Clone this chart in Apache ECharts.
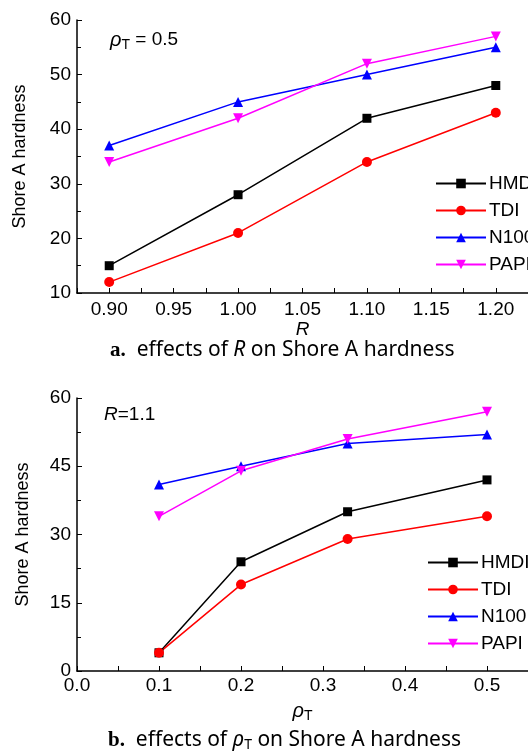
<!DOCTYPE html>
<html>
<head>
<meta charset="utf-8">
<script src="https://cdn.jsdelivr.net/npm/echarts@6/dist/echarts.min.js"></script>
<style>
  html, body { margin: 0; padding: 0; background: #fff; }
  #main { width: 528px; height: 752px; }
</style>
</head>
<body>
<div id="main"></div>
<script>
// chart a: effect of R
var rValues = [0.90, 1.00, 1.10, 1.20];
var hmdiA = [15, 28, 42, 48];
var tdiA = [12, 21, 34, 43];
var n100A = [37, 45, 50, 55];
var papiA = [34, 42, 52, 57];
var rTickLabels = [0.90, 0.95, 1.00, 1.05, 1.10, 1.15, 1.20];

// chart b: effect of rho_T
var rhoValues = [0.1, 0.2, 0.33, 0.5];
var hmdiB = [4, 24, 35, 42];
var tdiB = [4, 19, 29, 34];
var n100B = [41, 45, 50, 52];
var papiB = [34, 44, 51, 57];
var rhoTickLabels = [0.0, 0.1, 0.2, 0.3, 0.4, 0.5];

var names = ['HMDI', 'TDI', 'N100', 'PAPI'];
var colors = ['#000000', '#ff0000', '#0000ff', '#ff00ff'];
var symbols = ['rect', 'circle', 'triangle', 'triangle'];
var rotates = [0, 0, 0, 180];

var font = 'Liberation Sans, Arial, sans-serif';
var serif = 'Liberation Serif, DejaVu Serif, serif';
var capFont = 'Noto Sans, Lato, sans-serif';

function steps(a, b, s) {
  var out = [];
  for (var i = 0; a + i * s <= b + 1e-9; i++) out.push(+(a + i * s).toFixed(4));
  return out;
}

function pairs(xs, ys) {
  return xs.map(function (x, i) { return [x, ys[i]]; });
}

var myChart = echarts.init(document.getElementById('main'));

var axisLine = { lineStyle: { color: '#000', width: 1.5 } };
var labelStyle = { color: '#000', fontFamily: font, fontSize: 19 };

function makeSeries(idx, xs, list) {
  return list.map(function (ys, i) {
    return {
      name: names[i],
      type: 'line',
      xAxisIndex: idx,
      yAxisIndex: idx,
      data: pairs(xs, ys),
      symbol: symbols[i],
      symbolRotate: rotates[i],
      symbolSize: i == 0 ? 9 : 10,
      lineStyle: { color: colors[i], width: 1.5 },
      itemStyle: { color: colors[i] },
      z: 3
    };
  });
}

function makeLegend(left, top) {
  return {
    data: names,
    orient: 'vertical',
    left: left,
    top: top,
    itemWidth: 50,
    itemHeight: 12,
    itemGap: 8,
    selectedMode: false,
    textStyle: { color: '#000', fontFamily: font, fontSize: 19, lineHeight: 18, padding: [0, 0, 0, -2] }
  };
}

var option = {
  animation: false,
  backgroundColor: '#fff',
  grid: [
    { left: 77, top: 20, width: 451, height: 273 },
    { left: 77, top: 398, width: 451, height: 273 }
  ],
  legend: [makeLegend(430, 169), makeLegend(422, 548)],
  xAxis: [
    {
      gridIndex: 0,
      type: 'value',
      min: 0.875,
      max: 1.225,
      name: 'R',
      nameLocation: 'middle',
      nameGap: 27,
      nameTextStyle: { color: '#000', fontFamily: font, fontSize: 19, fontStyle: 'italic' },
      axisLine: axisLine,
      axisTick: { inside: true, length: 5, lineStyle: { color: '#000' }, customValues: steps(0.875, 1.2, 0.025) },
      axisLabel: Object.assign({ customValues: rTickLabels, margin: 7, formatter: function (v) { return v.toFixed(2); } }, labelStyle),
      splitLine: { show: false }
    },
    {
      gridIndex: 1,
      type: 'value',
      min: 0,
      max: 0.55,
      name: '{i|ρ}{s|T}',
      nameLocation: 'middle',
      nameGap: 28,
      nameTextStyle: {
        rich: {
          i: { color: '#000', fontFamily: font, fontSize: 20, fontStyle: 'italic' },
          s: { color: '#000', fontFamily: font, fontSize: 14, padding: [10, 0, 0, 0] }
        }
      },
      axisLine: axisLine,
      axisTick: { inside: true, length: 5, lineStyle: { color: '#000' }, customValues: steps(0, 0.5, 0.05) },
      axisLabel: Object.assign({ customValues: rhoTickLabels, margin: 5, formatter: function (v) { return v.toFixed(1); } }, labelStyle),
      splitLine: { show: false }
    }
  ],
  yAxis: [
    {
      gridIndex: 0,
      type: 'value',
      min: 10,
      max: 60,
      interval: 10,
      name: 'Shore A hardness',
      nameLocation: 'middle',
      nameGap: 48,
      nameTextStyle: { color: '#000', fontFamily: font, fontSize: 18 },
      axisLine: axisLine,
      axisTick: { inside: true, length: 5, lineStyle: { color: '#000' } },
      minorTick: { show: true, splitNumber: 2, length: 4, lineStyle: { color: '#000' } },
      axisLabel: Object.assign({ margin: 6 }, labelStyle),
      splitLine: { show: false }
    },
    {
      gridIndex: 1,
      type: 'value',
      min: 0,
      max: 60,
      interval: 15,
      name: 'Shore A hardness',
      nameLocation: 'middle',
      nameGap: 45,
      nameTextStyle: { color: '#000', fontFamily: font, fontSize: 18 },
      axisLine: axisLine,
      axisTick: { inside: true, length: 5, lineStyle: { color: '#000' } },
      minorTick: { show: true, splitNumber: 2, length: 4, lineStyle: { color: '#000' } },
      axisLabel: Object.assign({ margin: 6 }, labelStyle),
      splitLine: { show: false }
    }
  ],
  graphic: [
    {
      type: 'text', left: 110, top: 30,
      style: {
        text: '{i|ρ}{s|T}{n| = 0.5}',
        rich: {
          i: { fill: '#000', fontFamily: font, fontSize: 20, fontStyle: 'italic' },
          s: { fill: '#000', fontFamily: font, fontSize: 14, padding: [10, 0, 0, 0] },
          n: { fill: '#000', fontFamily: font, fontSize: 19 }
        }
      }
    },
    {
      type: 'text', left: 104, top: 405,
      style: {
        text: '{i|R}{n|=1.1}',
        rich: {
          i: { fill: '#000', fontFamily: font, fontSize: 19, fontStyle: 'italic' },
          n: { fill: '#000', fontFamily: font, fontSize: 19 }
        }
      }
    },
    {
      type: 'text', left: 110, top: 340,
      style: {
        text: '{b|a.}{n|  effects of }{i|R}{n| on Shore A hardness}',
        rich: {
          b: { fill: '#000', fontFamily: serif, fontSize: 21, fontWeight: 'bold' },
          n: { fill: '#000', fontFamily: capFont, fontSize: 21 },
          i: { fill: '#000', fontFamily: capFont, fontSize: 21, fontStyle: 'italic' }
        }
      }
    },
    {
      type: 'text', left: 108, top: 730,
      style: {
        text: '{b|b.}{n|  effects of }{i|ρ}{s|T}{n| on Shore A hardness}',
        rich: {
          b: { fill: '#000', fontFamily: serif, fontSize: 21, fontWeight: 'bold' },
          n: { fill: '#000', fontFamily: capFont, fontSize: 21 },
          i: { fill: '#000', fontFamily: capFont, fontSize: 21, fontStyle: 'italic' },
          s: { fill: '#000', fontFamily: capFont, fontSize: 14, padding: [10, 0, 0, 0] }
        }
      }
    }
  ],
  series: makeSeries(0, rValues, [hmdiA, tdiA, n100A, papiA])
    .concat(makeSeries(1, rhoValues, [hmdiB, tdiB, n100B, papiB]))
};

myChart.setOption(option);
</script>
</body>
</html>
